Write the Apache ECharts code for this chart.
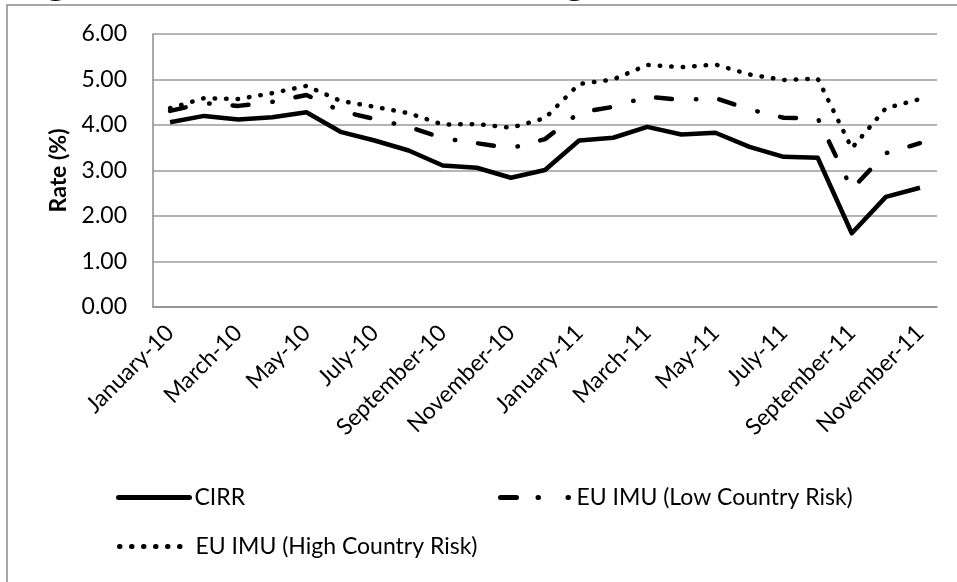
<!DOCTYPE html>
<html>
<head>
<meta charset="utf-8">
<script src="https://cdn.jsdelivr.net/npm/echarts@6/dist/echarts.min.js"></script>
<style>html,body{margin:0;padding:0;background:#fff;}#c{width:957px;height:582px;}</style>
</head>
<body>
<div id="c"></div>
<script>
const titleText = 'Figure 6: CIRR and EU IMU Average, 2010-2011';
const yAxisName = 'Rate (%)';
const months = ['January-10','February-10','March-10','April-10','May-10','June-10','July-10','August-10','September-10','October-10','November-10','December-10',
  'January-11','February-11','March-11','April-11','May-11','June-11','July-11','August-11','September-11','October-11','November-11'];
const seriesNames = ['CIRR', 'EU IMU (Low Country Risk)', 'EU IMU (High Country Risk)'];
const cirr = [4.06,4.20,4.12,4.17,4.28,3.85,3.66,3.44,3.11,3.06,2.84,3.01,3.66,3.72,3.96,3.79,3.83,3.52,3.30,3.28,1.62,2.42,2.62];
const euLow = [4.31,4.48,4.42,4.51,4.66,4.31,4.13,3.96,3.71,3.60,3.49,3.69,4.27,4.40,4.62,4.55,4.59,4.34,4.16,4.15,2.59,3.38,3.60];
const euHigh = [4.37,4.59,4.57,4.70,4.86,4.53,4.40,4.26,4.01,4.02,3.94,4.15,4.90,5.00,5.32,5.27,5.33,5.11,4.99,5.02,3.49,4.37,4.57];

const FONT = 'Lato';
const FS = 23;
function legendItem(name, left, top, dash) {
  return {
    data: [name], left: left, top: top, padding: 0, itemWidth: 71, itemHeight: 14,
    itemStyle: {opacity: 0},
    lineStyle: {width: 5, color: '#000', type: dash, cap: 'round'},
    textStyle: {fontFamily: FONT, fontSize: FS, color: '#000'}
  };
}
const chart = echarts.init(document.getElementById('c'), null, {renderer: 'canvas'});
chart.setOption({
  backgroundColor: '#fff',
  animation: false,
  graphic: [
    {type: 'rect', shape: {x: 7, y: 5, width: 1000, height: 700}, style: {fill: 'none', stroke: '#8a8a8a', lineWidth: 1.5}, silent: true, z: 0},
    {type: 'text', x: 15, y: -16.5, style: {text: titleText, font: 'bold 36px "Liberation Serif"', fill: '#000', align: 'left', verticalAlign: 'middle'}, z: 1}
  ],
  grid: {left: 153, right: 20, top: 34, bottom: 275},
  legend: [
    legendItem(seriesNames[0], 116, 486, 'solid'),
    legendItem(seriesNames[1], 498, 486, [16, 21.5, 0.5, 29.5, 0.5, 100]),
    legendItem(seriesNames[2], 117, 535, [0.5, 11.5])
  ],
  xAxis: {
    type: 'category', data: months, boundaryGap: true,
    axisLine: {lineStyle: {color: '#8c8c8c', width: 1.5}},
    axisTick: {show: false},
    axisLabel: {interval: 1, rotate: 45, fontFamily: FONT, fontSize: FS, color: '#000', margin: 22}
  },
  yAxis: {
    type: 'value', min: 0, max: 6, interval: 1,
    name: yAxisName, nameLocation: 'middle', nameGap: 83, nameRotate: 90,
    nameTextStyle: {fontFamily: FONT, fontSize: 23, fontWeight: 'bold', color: '#000'},
    axisLine: {show: true, lineStyle: {color: '#8c8c8c', width: 1.5}},
    axisTick: {show: false},
    splitLine: {lineStyle: {color: '#9c9c9c', width: 1.5}},
    axisLabel: {formatter: v => v.toFixed(2), fontFamily: FONT, fontSize: FS, color: '#000', margin: 26}
  },
  series: [
    {name: seriesNames[0], type: 'line', data: cirr, symbol: 'none', color: '#000',
      lineStyle: {color: '#000', width: 4.5, join: 'round'}, z: 3},
    {name: seriesNames[1], type: 'line', data: euLow, symbol: 'none', color: '#000',
      lineStyle: {color: '#000', width: 4.5, type: [16, 24, 0.5, 23], cap: 'round', join: 'round'}, z: 2},
    {name: seriesNames[2], type: 'line', data: euHigh, symbol: 'none', color: '#000',
      lineStyle: {color: '#000', width: 4.5, type: [0.5, 11], cap: 'round', join: 'round'}, z: 2}
  ]
});
</script>
</body>
</html>
